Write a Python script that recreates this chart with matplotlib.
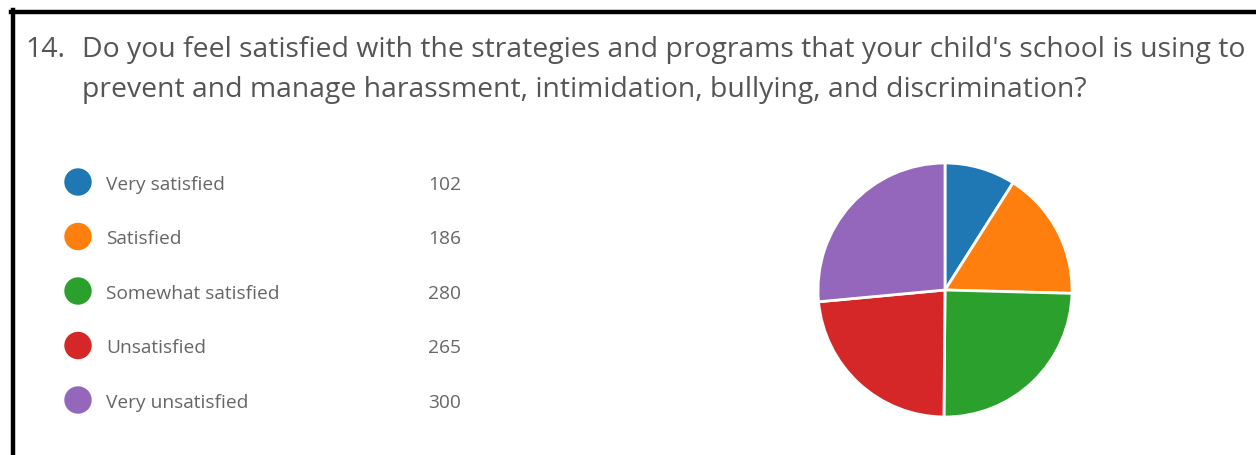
import matplotlib.pyplot as plt
from matplotlib.lines import Line2D

# survey responses for question 14
labels = ['Very satisfied', 'Satisfied', 'Somewhat satisfied', 'Unsatisfied', 'Very unsatisfied']
counts = [102, 186, 280, 265, 300]
colors = ['#1f77b4', '#ff7f0e', '#2ca02c', '#d62728', '#9467bd']

title_num = '14.'
title_lines = ["Do you feel satisfied with the strategies and programs that your child's school is using to",
               "prevent and manage harassment, intimidation, bullying, and discrimination?"]

W, H = 1256, 456
fig = plt.figure(figsize=(W / 100, H / 100), dpi=100)
fig.patch.set_facecolor('white')

# overlay in pixel units for the text, legend dots and frame lines
ov = fig.add_axes([0, 0, 1, 1])
ov.set_xlim(0, W)
ov.set_ylim(H, 0)
ov.axis('off')

font = 'Open Sans'
grey = '#555555'
lgrey = '#666666'

ov.add_line(Line2D([11, W], [12.5, 12.5], color='black', lw=3.2))
ov.add_line(Line2D([13, 13], [11, H], color='black', lw=3.2))

ov.text(25, 57, title_num, fontsize=20.4, color=grey, family=font, va='baseline')
ov.text(82, 57, title_lines[0], fontsize=20.4, color=grey, family=font, va='baseline')
ov.text(82, 97, title_lines[1], fontsize=20.4, color=grey, family=font, va='baseline')

row_y0, row_step = 183, 54.5
for i, (lab, n, c) in enumerate(zip(labels, counts, colors)):
    y = row_y0 + i * row_step
    ov.scatter([78], [y], s=390, color=c, edgecolors='none')
    ov.text(106, y + 7, lab, fontsize=13.8, color=lgrey, family=font, va='baseline')
    ov.text(461, y + 7, str(n), fontsize=13.8, color=lgrey, family=font, va='baseline', ha='right')

# pie, clockwise from 12 o'clock
cx, cy, r = 945, 291, 127
pad = 3
pie_ax = fig.add_axes([(cx - r - pad) / W, (H - cy - r - pad) / H,
                       2 * (r + pad) / W, 2 * (r + pad) / H])
pie_ax.pie(counts, colors=colors, startangle=90, counterclock=False,
           wedgeprops=dict(edgecolor='white', linewidth=2))
lim = (r + pad) / r
pie_ax.set_xlim(-lim, lim)
pie_ax.set_ylim(-lim, lim)
pie_ax.set_aspect('equal')
pie_ax.axis('off')

fig.savefig('out.png', dpi=100)
